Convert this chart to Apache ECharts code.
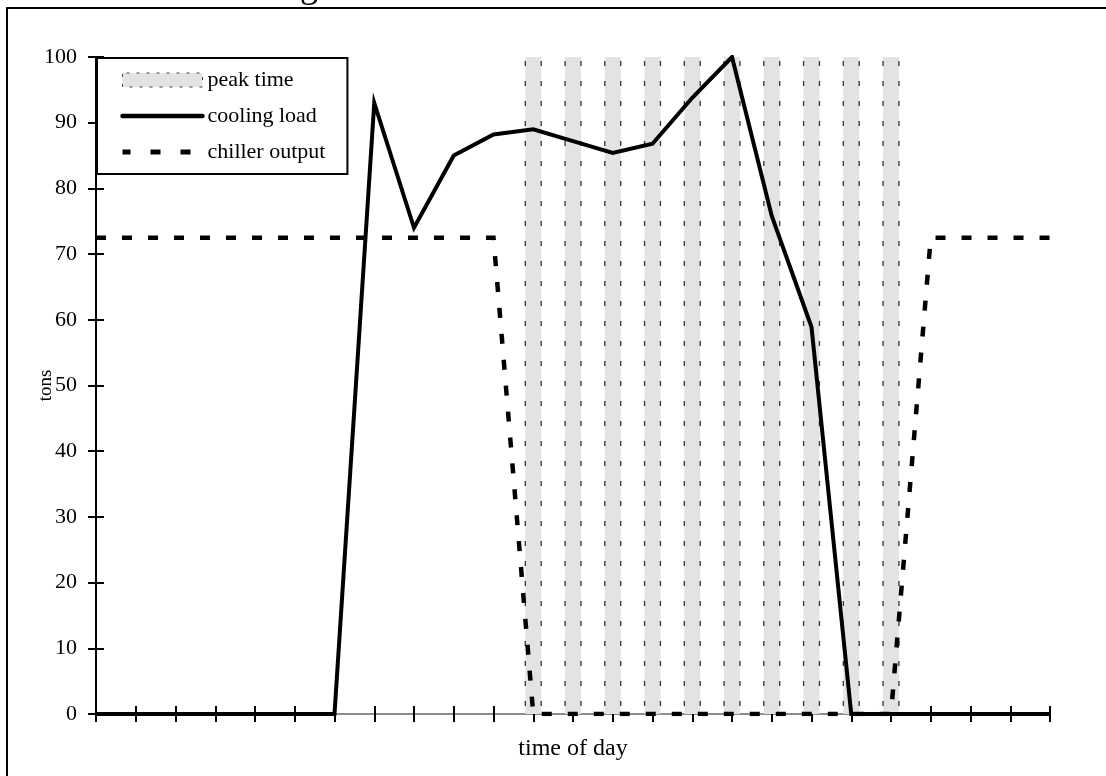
<!DOCTYPE html>
<html>
<head>
<meta charset="utf-8">
<script src="https://cdn.jsdelivr.net/npm/echarts@6/dist/echarts.min.js"></script>
<style>
  html, body { margin: 0; padding: 0; background: #fff; }
  #chart { width: 1106px; height: 776px; }
</style>
</head>
<body>
<div id="chart"></div>
<script>
// Hourly profile over one day (hour 0 .. hour 24), values in tons
const hours = [0, 1, 2, 3, 4, 5, 6, 7, 8, 9, 10, 11, 12, 13, 14, 15, 16, 17, 18, 19, 20, 21, 22, 23, 24];
const coolingLoad = [0, 0, 0, 0, 0, 0, 0, 93, 74, 85, 88.2, 89, 87.2, 85.4, 86.8, 93.8, 100, 75.8, 58.9, 0, 0, 0, 0, 0, 0];
const chillerOutput = [72.5, 72.5, 72.5, 72.5, 72.5, 72.5, 72.5, 72.5, 72.5, 72.5, 72.5, 0, 0, 0, 0, 0, 0, 0, 0, 0, 0, 72.5, 72.5, 72.5, 72.5];
// Peak-rate hours, drawn as full-height shaded stripes
const peakHours = [11, 12, 13, 14, 15, 16, 17, 18, 19, 20];
const peakLevel = [100, 100, 100, 100, 100, 100, 100, 100, 100, 100];

const seriesNames = ['peak time', 'cooling load', 'chiller output'];
const titleText = 'Full Storage';

const SERIF = '"Liberation Serif", "Times New Roman", serif';
const stripeFrac = 0.4;

const chart = echarts.init(document.getElementById('chart'), null, { renderer: 'canvas' });

const hiddenAxisBits = { axisLabel: { show: false }, splitLine: { show: false } };
const blackLine = { lineStyle: { color: '#000', width: 2 } };
const tickStyle = { color: '#000', width: 2 };

const option = {
  backgroundColor: '#fff',
  animation: false,
  textStyle: { fontFamily: SERIF },
  grid: { left: 96, top: 57, width: 954, height: 657, outerBoundsMode: 'none', containLabel: false },
  graphic: [
    {
      type: 'rect', silent: true, z: 100,
      shape: { x: 7, y: 8, width: 1300, height: 1000 },
      style: { fill: 'none', stroke: '#000', lineWidth: 2 }
    },
    {
      type: 'text', silent: true, z: 100, x: 157, y: 6,
      style: { text: titleText, font: '36px ' + SERIF, fill: '#000', textVerticalAlign: 'bottom', verticalAlign: 'bottom' }
    }
  ],
  legend: {
    orient: 'vertical', left: 97, top: 58,
    padding: [11, 22, 11, 23], itemGap: 14, itemWidth: 80, itemHeight: 14,
    backgroundColor: '#fff', borderColor: '#000', borderWidth: 2, borderRadius: 0,
    textStyle: { fontFamily: SERIF, fontSize: 22, color: '#000' },
    selectedMode: false,
    data: [
      { name: seriesNames[0], icon: 'rect', itemStyle: { color: '#e3e3e3', borderColor: '#444', borderWidth: 1, borderType: [3, 7] } },
      { name: seriesNames[1], itemStyle: { opacity: 0 }, lineStyle: { width: 4.5, cap: 'round' } },
      { name: seriesNames[2], itemStyle: { opacity: 0 }, lineStyle: { type: [10, 20], width: 5, dashOffset: 2 } }
    ]
  },
  xAxis: [
    {
      type: 'value', min: 0, max: 24, interval: 1, position: 'bottom',
      axisLine: blackLine,
      axisTick: { show: false },
      ...hiddenAxisBits,
      name: 'time of day', nameLocation: 'middle', nameGap: 23, nameMoveOverlap: false,
      nameTextStyle: { fontFamily: SERIF, fontSize: 24, color: '#000' }
    },
    {
      // tick marks straddling the bottom axis line
      type: 'value', min: 0, max: 24, interval: 1, position: 'bottom', offset: -8,
      axisLine: { show: false, onZero: false },
      axisTick: { show: true, length: 16, lineStyle: tickStyle },
      ...hiddenAxisBits
    },
    {
      type: 'value', min: 0, max: 24, interval: 1, position: 'top',
      axisLine: { lineStyle: { color: '#8c8c8c', width: 2 } },
      axisTick: { show: false },
      ...hiddenAxisBits
    }
  ],
  yAxis: [
    {
      type: 'value', min: 0, max: 100, interval: 10, position: 'left',
      axisLine: blackLine,
      axisTick: { show: false },
      axisLabel: { fontFamily: SERIF, fontSize: 22, color: '#000', margin: 19 },
      splitLine: { show: false },
      name: 'tons', nameLocation: 'middle', nameGap: 40, nameRotate: 90, nameMoveOverlap: false,
      nameTextStyle: { fontFamily: SERIF, fontSize: 19, color: '#000' }
    },
    {
      // tick marks straddling the left axis line
      type: 'value', min: 0, max: 100, interval: 10, position: 'left', offset: -8,
      axisLine: { show: false, onZero: false },
      axisTick: { show: true, length: 16, lineStyle: tickStyle },
      ...hiddenAxisBits
    },
    {
      type: 'value', min: 0, max: 100, interval: 10, position: 'right',
      axisLine: blackLine,
      axisTick: { show: false },
      ...hiddenAxisBits
    }
  ],
  series: [
    {
      // stripes sit on the second axis pair so that pair carries data
      name: seriesNames[0], type: 'custom', xAxisIndex: 1, yAxisIndex: 1, z: 1,
      encode: { x: 0, y: 1 },
      itemStyle: { color: '#e3e3e3', borderColor: '#444', borderWidth: 1, borderType: [3, 7] },
      data: peakHours.map((h, i) => [h, peakLevel[i]]),
      renderItem(params, api) {
        const x = api.value(0);
        const top = api.coord([x, api.value(1)]);
        const base = api.coord([x, 0]);
        const w = api.size([1, 0])[0] * stripeFrac;
        const l = top[0] - w / 2;
        const r = top[0] + w / 2;
        const edge = { stroke: '#333', lineWidth: 1.3, lineDash: [5, 15], lineDashOffset: -4 };
        return {
          type: 'group',
          children: [
            { type: 'rect', shape: { x: l, y: top[1], width: w, height: base[1] - top[1] }, style: { fill: '#e3e3e3' } },
            { type: 'line', shape: { x1: l, y1: top[1], x2: l, y2: base[1] }, style: edge },
            { type: 'line', shape: { x1: r, y1: top[1], x2: r, y2: base[1] }, style: edge }
          ]
        };
      }
    },
    {
      name: seriesNames[2], type: 'line', xAxisIndex: 0, yAxisIndex: 0, z: 3,
      symbol: 'none', showSymbol: false,
      lineStyle: { color: '#000', width: 4.5, type: [10, 16], cap: 'butt', join: 'miter' },
      itemStyle: { color: '#000' },
      data: hours.map((h, i) => [h, chillerOutput[i]])
    },
    {
      name: seriesNames[1], type: 'line', xAxisIndex: 0, yAxisIndex: 0, z: 4,
      symbol: 'none', showSymbol: false,
      lineStyle: { color: '#000', width: 4, join: 'miter', cap: 'butt' },
      itemStyle: { color: '#000' },
      data: hours.map((h, i) => [h, coolingLoad[i]])
    }
  ]
};

chart.setOption(option);
</script>
</body>
</html>
